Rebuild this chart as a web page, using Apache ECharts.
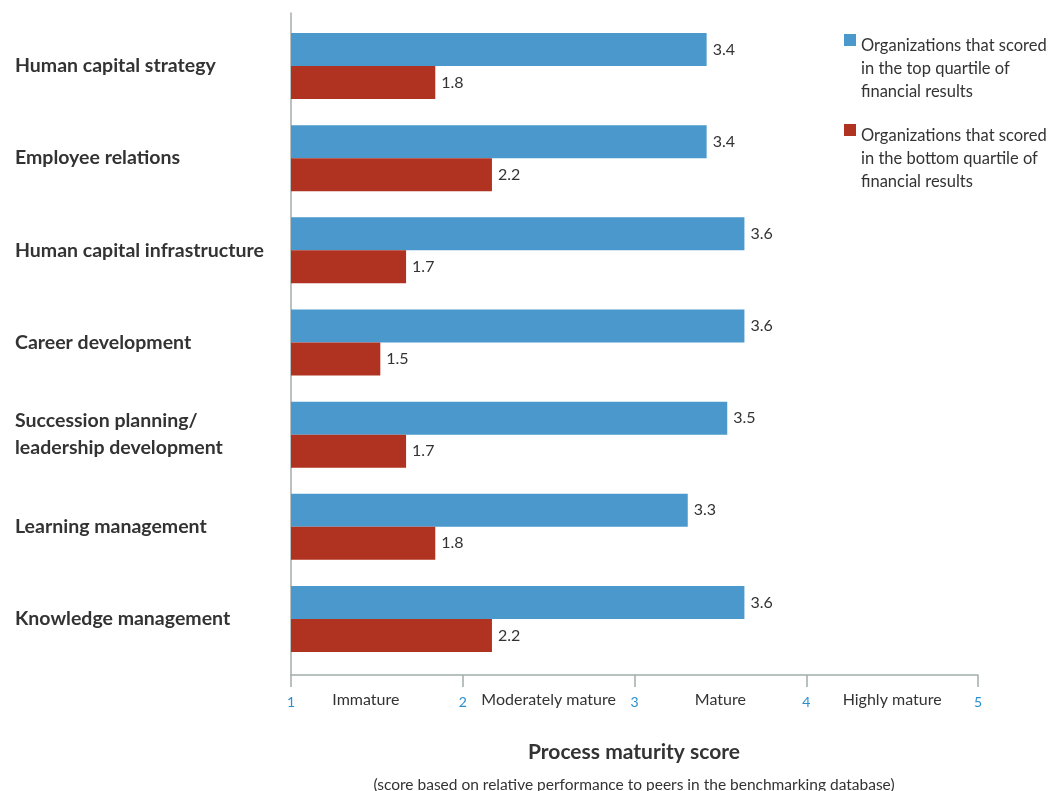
<!DOCTYPE html>
<html>
<head>
<meta charset="utf-8">
<script src="https://cdn.jsdelivr.net/npm/echarts@6/dist/echarts.min.js"></script>
<style>html,body{margin:0;padding:0;background:#fff}#chart{width:1050px;height:791px}</style>
</head>
<body>
<div id="chart"></div>
<script>
var categories = [
  'Human capital strategy',
  'Employee relations',
  'Human capital infrastructure',
  'Career development',
  'Succession planning/\nleadership development',
  'Learning management',
  'Knowledge management'
];
var topQuartile = [3.42, 3.42, 3.64, 3.64, 3.54, 3.31, 3.64];
var bottomQuartile = [1.84, 2.17, 1.67, 1.52, 1.67, 1.84, 2.17];
var seriesNames = [
  'Organizations that scored\nin the top quartile of\nfinancial results',
  'Organizations that scored\nin the bottom quartile of\nfinancial results'
];
var tickNumbers = ['1', '2', '3', '4', '5'];
var maturityLabels = ['Immature', 'Moderately mature', 'Mature', 'Highly mature'];
var titleText = 'Process maturity score';
var subtitleText = '(score based on relative performance to peers in the benchmarking database)';

var FONT = 'Lato, "Open Sans", sans-serif';
var AXIS_GREY = '#a3adab';
var chart = echarts.init(document.getElementById('chart'));

function valueLabel(p) { return p.value.toFixed(1); }

var legendIcon = 'path://M0 0H12V12H0Z M0 69H12V69H0Z';

chart.setOption({
  backgroundColor: '#ffffff',
  animation: false,
  title: {
    text: titleText,
    subtext: subtitleText,
    left: 634,
    top: 742,
    textAlign: 'center',
    itemGap: 14,
    padding: 0,
    textStyle: { fontFamily: FONT, fontSize: 21, fontWeight: 'bold', color: '#333' },
    subtextStyle: { fontFamily: FONT, fontSize: 15.5, color: '#333' }
  },
  legend: {
    orient: 'vertical',
    left: 844,
    top: 34,
    itemWidth: 12,
    itemHeight: 69,
    itemGap: 21,
    icon: legendIcon,
    padding: 0,
    textStyle: { fontFamily: FONT, fontSize: 16.5, lineHeight: 23, color: '#333' },
    data: seriesNames
  },
  grid: [
    { left: 291, right: 72, top: 20, bottom: 126 },
    { left: 291, right: 72, top: 13, bottom: 116 }
  ],
  xAxis: [
    { gridIndex: 0, type: 'value', min: 1, max: 5, show: false },
    {
      gridIndex: 1, type: 'value', min: 1, max: 5, interval: 1, position: 'bottom',
      axisLine: { show: true, lineStyle: { color: AXIS_GREY, width: 1.5 } },
      axisTick: { show: true, length: 12, lineStyle: { color: AXIS_GREY, width: 1.5 } },
      splitLine: { show: false },
      axisLabel: {
        margin: 20, fontFamily: FONT, fontSize: 14, color: '#2a8fcf',
        formatter: function (v) { return tickNumbers[Math.round(v) - 1]; }
      }
    },
    {
      gridIndex: 1, type: 'value', min: 1, max: 5, interval: 0.5, position: 'bottom', offset: 0,
      axisLine: { show: false }, axisTick: { show: false }, splitLine: { show: false },
      axisLabel: {
        margin: 17, fontFamily: FONT, fontSize: 16, color: '#333',
        showMinLabel: true, showMaxLabel: true,
        formatter: function (v) {
          if (Math.abs(v - Math.round(v)) < 0.01) return '';
          var i = Math.floor(v) - 1;
          return i === 0 ? '{a|' + maturityLabels[i] + '}' : maturityLabels[i];
        },
        rich: { a: { fontFamily: FONT, fontSize: 16, color: '#333', padding: [0, 22, 0, 0] } }
      }
    }
  ],
  yAxis: [
    {
      gridIndex: 0, type: 'category', inverse: true, data: categories,
      axisLine: { show: false }, axisTick: { show: false }, splitLine: { show: false },
      axisLabel: {
        align: 'left', margin: 276, fontFamily: FONT, fontSize: 19.5, fontWeight: 'bold',
        color: '#333', lineHeight: 27
      }
    },
    {
      gridIndex: 1, type: 'value', min: 0, max: 1,
      axisLine: { show: true, lineStyle: { color: AXIS_GREY, width: 1.5 } },
      axisTick: { show: false }, axisLabel: { show: false }, splitLine: { show: false }
    }
  ],
  series: [
    {
      name: seriesNames[0], type: 'bar', xAxisIndex: 0, yAxisIndex: 0,
      data: topQuartile, barWidth: 33, barGap: '0%',
      itemStyle: { color: '#4a98cc' },
      label: { show: true, position: 'right', distance: 6, formatter: valueLabel,
               fontFamily: FONT, fontSize: 16, color: '#333' }
    },
    {
      name: seriesNames[1], type: 'bar', xAxisIndex: 0, yAxisIndex: 0,
      data: bottomQuartile, barWidth: 33, barGap: '0%',
      itemStyle: { color: '#b03220' },
      label: { show: true, position: 'right', distance: 6, formatter: valueLabel,
               fontFamily: FONT, fontSize: 16, color: '#333' }
    }
  ]
});
</script>
</body>
</html>
